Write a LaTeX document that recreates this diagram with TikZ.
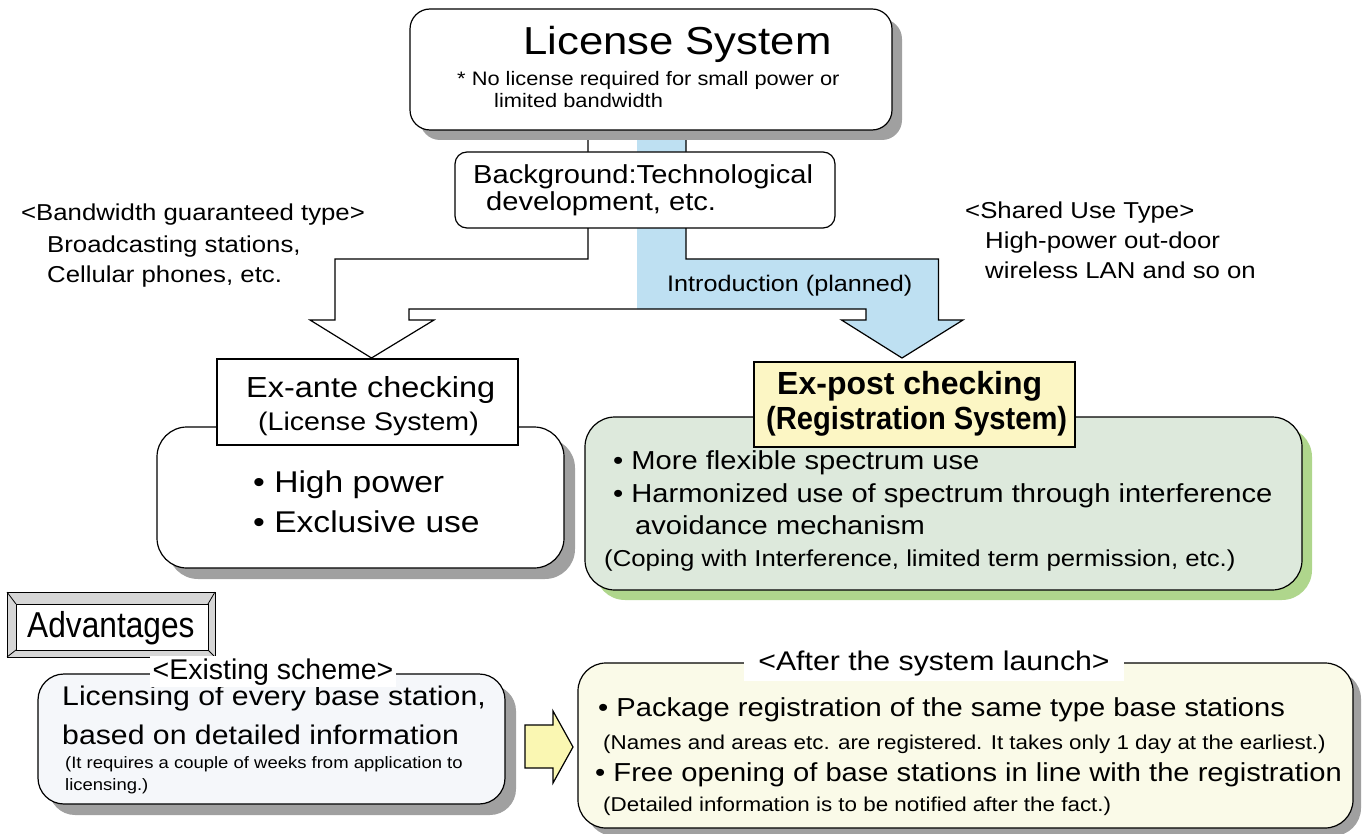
\documentclass[tikz,border=0pt]{standalone}
\usepackage{fontspec}
\setmainfont{Liberation Sans}
\newfontfamily\fw[FakeStretch=1.12]{Liberation Sans}
\newfontfamily\fn[FakeStretch=0.88]{Liberation Sans}
\newfontfamily\fe{Liberation Sans}
\newfontfamily\fc[FakeStretch=0.91]{Liberation Sans}
\usetikzlibrary{shadows}
\definecolor{arrowblue}{RGB}{190,224,242}
\definecolor{postyellow}{RGB}{252,246,196}
\definecolor{greenfill}{RGB}{221,233,220}
\definecolor{greenshadow}{RGB}{175,214,140}
\definecolor{shgray}{RGB}{160,160,160}
\definecolor{paleblue}{RGB}{245,247,250}
\definecolor{cream}{RGB}{250,250,232}
\definecolor{arrowyellow}{RGB}{250,247,178}
\definecolor{bevelgray}{RGB}{214,214,214}
\newcommand\fsz[1]{\fontsize{#1}{#1}\selectfont}

\begin{document}
\begin{tikzpicture}[x=1pt,y=-1pt,
  outline/.style={draw=black, line width=1.2pt},
  panel/.style={outline, rectangle, inner sep=0pt},
  txt/.style={inner sep=0pt, anchor=base west},
  ctxt/.style={inner sep=0pt, anchor=base},
  castshadow/.style 2 args={drop shadow={shadow xshift=#1pt, shadow yshift=-#1pt, fill=#2, opacity=1}},
]
\useasboundingbox (0,0) rectangle (1367,834);

% ---- split arrow: white branch to the left, blue branch to the right
\fill[white] (588,100) -- (588,259) -- (335,259) -- (335,320) -- (310,320)
  -- (371.5,358) -- (434,320) -- (409,320) -- (409,309) -- (866,309)
  -- (866,320) -- (841.5,320) -- (902,358) -- (963,320) -- (938.5,320)
  -- (938.5,259) -- (686,259) -- (686,100) -- cycle;
\fill[arrowblue] (637,100) -- (637,309) -- (866,309) -- (866,320) -- (841.5,320)
  -- (902,358) -- (963,320) -- (938.5,320) -- (938.5,259) -- (686,259)
  -- (686,100) -- cycle;
\draw[outline, line join=miter] (588,100) -- (588,259) -- (335,259) -- (335,320) -- (310,320)
  -- (371.5,358) -- (434,320) -- (409,320) -- (409,309) -- (866,309)
  -- (866,320) -- (841.5,320) -- (902,358) -- (963,320) -- (938.5,320)
  -- (938.5,259) -- (686,259) -- (686,100);

% ---- top boxes
\node[panel, rounded corners=20pt, minimum width=482pt, minimum height=121pt,
  fill=white, castshadow={10}{shgray}] (lic) at (651,69.5) {};
\node[panel, rounded corners=12pt, minimum width=380pt, minimum height=76pt,
  fill=white] (bg) at (645,190) {};

\node[txt] (licT) at (523,55) {\fw\fsz{39}License System};
\node[txt] (licN1) at (457,86) {\fw\fsz{19.5}* No license required for small power or};
\node[txt] (licN2) at (494,108) {\fw\fsz{19.5}limited bandwidth};
\node[txt] (bg1) at (473,184) {\fw\fsz{26}Background:Technological};
\node[txt] (bg2) at (486,211) {\fw\fsz{26}development, etc.};

% ---- side notes
\node[txt] (bw1) at (21,221) {\fw\fsz{23}<Bandwidth guaranteed type>};
\node[txt] (bw2) at (47,252) {\fw\fsz{23}Broadcasting stations,};
\node[txt] (bw3) at (47,283) {\fw\fsz{23}Cellular phones, etc.};
\node[txt] (su1) at (965,219) {\fw\fsz{23}<Shared Use Type>};
\node[txt] (su2) at (985,248) {\fw\fsz{23}High-power out-door};
\node[txt] (su3) at (985,278) {\fw\fsz{23}wireless LAN and so on};
\node[txt] (intro) at (667,291) {\fw\fsz{22.5}Introduction (planned)};

% ---- ex-ante panel
\node[panel, rounded corners=30pt, minimum width=407pt, minimum height=141pt,
  fill=white, castshadow={11}{shgray}] (ante) at (360.5,497.5) {};
\node[panel, minimum width=301pt, minimum height=86pt, fill=white] (anteH) at (367.5,402) {};
\node[txt] (anteH1) at (246,397) {\fw\fsz{29}Ex-ante checking};
\node[txt] (anteH2) at (258,430) {\fw\fsz{25.5}(License System)};
\node[txt] (ante1) at (253,492) {\fw\fsz{30}• High power};
\node[txt] (ante2) at (253,532) {\fw\fsz{30}• Exclusive use};

% ---- ex-post panel
\node[panel, rounded corners=30pt, minimum width=717pt, minimum height=173pt,
  fill=greenfill, castshadow={10}{greenshadow}] (post) at (943.5,503.5) {};
\node[panel, minimum width=321pt, minimum height=85pt, fill=postyellow] (postH) at (914.5,404.5) {};
\node[txt] (postH1) at (777,394) {\fe\bfseries\fsz{32}Ex-post checking};
\node[txt] (postH2) at (766,429) {\fc\bfseries\fsz{32}(Registration System)};
\node[txt] (post1) at (613,469) {\fw\fsz{26}• More flexible spectrum use};
\node[txt] (post2) at (613,502) {\fw\fsz{26}• Harmonized use of spectrum through interference};
\node[txt] (post3) at (635,534) {\fw\fsz{26}avoidance mechanism};
\node[txt] (post4) at (604,566) {\fw\fsz{23}(Coping with Interference, limited term permission, etc.)};

% ---- "Advantages" bevelled plate
\fill[bevelgray] (7,592) rectangle (215,657);
\draw[line width=1pt] (7,592) rectangle (215,657);
\draw[line width=0.8pt] (7,592) -- (16,604) (215,592) -- (208,604)
  (7,657) -- (16,650) (215,657) -- (208,650);
\node[draw, line width=1pt, fill=white, inner sep=0pt, minimum width=192pt,
  minimum height=46pt] (adv) at (112,627) {};
\node[txt] (advT) at (27,637) {\fn\fsz{36}Advantages};

% ---- existing scheme
\node[panel, rounded corners=26pt, minimum width=467pt, minimum height=130pt,
  fill=paleblue, castshadow={11}{shgray}] (exist) at (271.5,739) {};
\node[txt] (ex1) at (62,705) {\fw\fsz{27}Licensing of every base station,};
\node[txt] (ex2) at (62,744) {\fw\fsz{27}based on detailed information};
\node[txt] (ex3) at (65,768) {\fw\fsz{16.5}(It requires a couple of weeks from application to};
\node[txt] (ex4) at (65,790) {\fw\fsz{16.5}licensing.)};
\node[ctxt, fill=white, inner xsep=3pt, inner ysep=2pt] (exL) at (273,679)
  {\fe\fsz{28.5}<Existing scheme>};

% ---- after the system launch
\node[panel, rounded corners=28pt, minimum width=775pt, minimum height=165pt,
  fill=cream, castshadow={8}{shgray}] (after) at (965.5,745.5) {};
\node[ctxt, fill=white, inner xsep=14pt, inner ysep=5pt] (afL) at (934,670)
  {\fw\fsz{27}<After the system launch>};
\node[txt] (af1) at (598,716) {\fw\fsz{26}• Package registration of the same type base stations};
\node[txt] (af2) at (603,749) {\fw\fsz{20}(Names and areas etc. are registered. It takes only 1 day at the earliest.)};
\node[txt] (af3) at (595,781) {\fw\fsz{26}• Free opening of base stations in line with the registration};
\node[txt] (af4) at (603,811) {\fw\fsz{20}(Detailed information is to be notified after the fact.)};

% ---- block arrow from the existing scheme to the new one
\draw[outline, fill=arrowyellow, line join=miter]
  (525,725) -- (553,725) -- (553,711) -- (573,747) -- (553,783)
  -- (553,768) -- (525,768) -- cycle;
\end{tikzpicture}
\end{document}
